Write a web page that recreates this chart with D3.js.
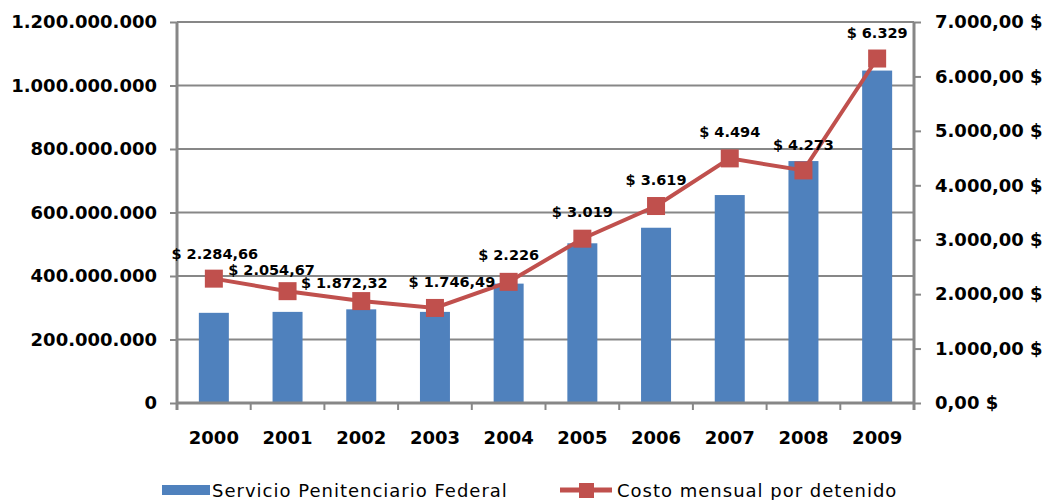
<!DOCTYPE html>
<html>
<head>
<meta charset="utf-8">
<script src="https://cdn.jsdelivr.net/npm/d3@7"></script>
<style>
  body { margin: 0; background: #fff; }
  text { font-family: "DejaVu Sans", Verdana, sans-serif; fill: #000; }
  .tick text { font-size: 18px; font-weight: bold; }
  .dlabel { font-size: 14.5px; font-weight: bold; }
  .legend text { font-size: 18px; letter-spacing: 1px; }
</style>
</head>
<body>
<div id="chart"></div>
<script>
// Data
var years = ["2000", "2001", "2002", "2003", "2004", "2005", "2006", "2007", "2008", "2009"];
var budget = [284000000, 287000000, 295000000, 287000000, 376000000, 503000000, 552000000, 655000000, 762000000, 1047000000];
var monthlyCost = [2284.66, 2054.67, 1872.32, 1746.49, 2226, 3019, 3619, 4494, 4273, 6329];
var costLabels = ["$ 2.284,66", "$ 2.054,67", "$ 1.872,32", "$ 1.746,49", "$ 2.226", "$ 3.019", "$ 3.619", "$ 4.494", "$ 4.273", "$ 6.329"];
var leftTicks = [0, 200000000, 400000000, 600000000, 800000000, 1000000000, 1200000000];
var rightTicks = [0, 1000, 2000, 3000, 4000, 5000, 6000, 7000];
var seriesNames = ["Servicio Penitenciario Federal", "Costo mensual por detenido"];

// label nudges (px) so they sit like the original
var labelDx = [1, -16, -17, 17, 0, 0, 0, 0, 0, 0];
var labelDy = [-25, -21, -18, -26, -27, -27, -26, -26, -26, -26];

var width = 1044, height = 500;
var plotLeft = 177, plotRight = 914, plotTop = 22, plotBottom = 403;

var barColor = "#4F81BD", lineColor = "#C0504D", gridColor = "#878787";

var loc = d3.formatLocale({decimal: ",", thousands: ".", grouping: [3], currency: ["", " $"]});
var fmtLeft = loc.format(",");
var fmtRight = loc.format(",.2f");

var svg = d3.select("#chart").append("svg")
    .attr("width", width)
    .attr("height", height);

var x = d3.scaleBand()
    .domain(years)
    .range([plotLeft, plotRight])
    .paddingInner(0.593)
    .paddingOuter(0.2965);

var yL = d3.scaleLinear().domain([0, 1200000000]).range([plotBottom, plotTop]);
var yR = d3.scaleLinear().domain([0, 7000]).range([plotBottom, plotTop]);

// gridlines
svg.append("g")
    .selectAll("line")
    .data(leftTicks.slice(1))
    .enter().append("line")
    .attr("x1", plotLeft).attr("x2", plotRight)
    .attr("y1", function(d) { return yL(d); })
    .attr("y2", function(d) { return yL(d); })
    .attr("stroke", gridColor)
    .attr("stroke-width", 2);

// bars
svg.append("g")
    .selectAll("rect")
    .data(budget)
    .enter().append("rect")
    .attr("x", function(d, i) { return x(years[i]); })
    .attr("width", x.bandwidth())
    .attr("y", function(d) { return yL(d); })
    .attr("height", function(d) { return plotBottom - yL(d); })
    .attr("fill", barColor);

// axes
var axL = svg.append("g")
    .attr("transform", "translate(" + plotLeft + ",0)")
    .call(d3.axisLeft(yL).tickValues(leftTicks).tickFormat(fmtLeft).tickSize(7).tickPadding(13));

var axR = svg.append("g")
    .attr("transform", "translate(" + plotRight + ",0)")
    .call(d3.axisRight(yR).tickValues(rightTicks).tickFormat(function(d) { return fmtRight(d) + " $"; }).tickSize(7).tickPadding(14));

var axB = svg.append("g")
    .attr("transform", "translate(0," + plotBottom + ")")
    .call(d3.axisBottom(x).tickSize(0).tickPadding(28));

[axL, axR, axB].forEach(function(g) {
    g.select(".domain").attr("stroke", gridColor).attr("stroke-width", 3);
    g.selectAll(".tick line").attr("stroke", gridColor).attr("stroke-width", 2);
});
axL.select(".domain").attr("d", "M0," + (plotBottom + 7) + "V" + plotTop);
axR.select(".domain").attr("d", "M0," + (plotBottom + 7) + "V" + plotTop);
axB.select(".domain").attr("d", "M" + plotLeft + ",0H" + plotRight);

// boundary ticks under the x axis
var boundaries = d3.range(years.length + 1).map(function(i) { return plotLeft + i * x.step(); });
axB.selectAll(".btick")
    .data(boundaries)
    .enter().append("line")
    .attr("class", "btick")
    .attr("x1", function(d) { return d; }).attr("x2", function(d) { return d; })
    .attr("y1", 0).attr("y2", 7)
    .attr("stroke", gridColor)
    .attr("stroke-width", 2);

// cost line
var cx = function(i) { return x(years[i]) + x.bandwidth() / 2; };
var line = d3.line()
    .x(function(d, i) { return cx(i); })
    .y(function(d) { return yR(d); });

svg.append("path")
    .datum(monthlyCost)
    .attr("d", line)
    .attr("fill", "none")
    .attr("stroke", lineColor)
    .attr("stroke-width", 4);

var ms = 18;
svg.append("g")
    .selectAll("rect")
    .data(monthlyCost)
    .enter().append("rect")
    .attr("x", function(d, i) { return cx(i) - ms / 2; })
    .attr("y", function(d) { return yR(d) - ms / 2; })
    .attr("width", ms).attr("height", ms)
    .attr("fill", lineColor);

// data labels
svg.append("g")
    .selectAll("text")
    .data(monthlyCost)
    .enter().append("text")
    .attr("class", "dlabel")
    .attr("x", function(d, i) { return cx(i) + labelDx[i]; })
    .attr("y", function(d, i) { return yR(d) + labelDy[i]; })
    .attr("dy", "0.35em")
    .attr("text-anchor", "middle")
    .text(function(d, i) { return costLabels[i]; });

// legend
var leg = svg.append("g").attr("class", "legend");
leg.append("rect")
    .attr("x", 162).attr("y", 485)
    .attr("width", 48).attr("height", 10)
    .attr("fill", barColor);
leg.append("text")
    .attr("x", 212).attr("y", 497)
    .text(seriesNames[0]);

leg.append("line")
    .attr("x1", 560).attr("x2", 612)
    .attr("y1", 490).attr("y2", 490)
    .attr("stroke", lineColor)
    .attr("stroke-width", 5);
leg.append("rect")
    .attr("x", 579).attr("y", 483)
    .attr("width", 15).attr("height", 15)
    .attr("fill", lineColor);
leg.append("text")
    .attr("x", 617).attr("y", 497)
    .text(seriesNames[1]);
</script>
</body>
</html>
